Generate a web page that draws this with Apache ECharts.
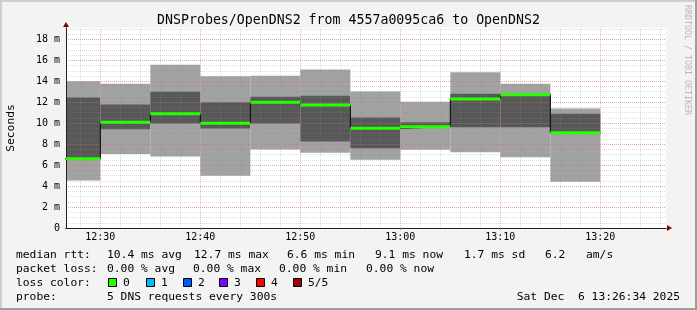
<!DOCTYPE html>
<html><head><meta charset="utf-8">
<script src="https://cdn.jsdelivr.net/npm/echarts@6/dist/echarts.min.js"></script>
<style>html,body{margin:0;padding:0;background:#f3f3f3}#c{width:697px;height:310px}</style>
</head><body><div id="c"></div>
<script>
// ---- data (ms) ----
var binStarts = ['12:25','12:30','12:35','12:40','12:45','12:50','12:55','13:00','13:05','13:10','13:15'];
var binMinutes = 5;
var ping1  = [4.54, 7.06, 6.83, 4.99, 7.50, 7.18, 6.52, 7.47, 7.22, 6.74, 4.42];
var ping2  = [6.62, 9.41, 9.98, 9.50, 9.98, 8.26, 7.60, 9.62, 9.60, 9.60, 9.09];
var median = [6.60, 10.10, 10.90, 10.00, 12.00, 11.74, 9.52, 9.65, 12.30, 12.72, 9.09];
var ping4  = [12.46, 11.77, 13.00, 11.99, 12.53, 12.62, 10.55, 10.08, 12.81, 12.78, 10.90];
var ping5  = [14.00, 13.77, 15.58, 14.47, 14.53, 15.13, 13.03, 12.05, 14.85, 13.77, 11.41];
var xTickLabels = ['12:30','12:40','12:50','13:00','13:10','13:20'];
var rangeStart = '12:26:34', rangeEnd = '13:26:34';
var yMax = 19.08;
var yMajor = 2, yMinor = 0.5, xMinorMinutes = 2;
var lossLabels = ['0','1','2','3','4','5/5'];
var lossColors = ['#26ff00','#00b8ff','#0059ff','#7e00ff','#ff0000','#a10000'];
var titleText = 'DNSProbes/OpenDNS2 from 4557a0095ca6 to OpenDNS2';
var legendLine1 = [[16,'median rtt:'],[107,'10.4 ms avg'],[194,'12.7 ms max'],[287,'6.6 ms min'],[375,'9.1 ms now'],[464,'1.7 ms sd'],[545,'6.2'],[586,'am/s']];
var legendLine2 = [[16,'packet loss:'],[107,'0.00 % avg'],[193,'0.00 % max'],[279,'0.00 % min'],[366,'0.00 % now']];
var probeLine = [[16,'probe:'],[107,'5 DNS requests every 300s']];
var dateText = 'Sat Dec  6 13:26:34 2025';

// ---- helpers ----
function toMin(t){var p=t.split(':');return (+p[0])*60+(+p[1])+(p[2]?(+p[2])/60:0)-720;}
function fmtMin(m){var h=Math.floor((m+720)/60), mm=Math.round(m+720-h*60);return h+':'+(mm<10?'0':'')+mm;}
var xMin = toMin(rangeStart), xMax = toMin(rangeEnd);
var smokeData = binStarts.map(function(t,i){var s=toMin(t);return [s, s+binMinutes, ping1[i], ping2[i], median[i], ping4[i], ping5[i]];});
var stepData = binStarts.map(function(t,i){return [toMin(t), median[i]];});
stepData.push([toMin(binStarts[binStarts.length-1])+binMinutes, median[median.length-1]]);
var xTickValues = xTickLabels.map(toMin);
var MAJOR_COLOR = 'rgba(235,100,100,0.45)', MINOR_COLOR = 'rgba(140,140,140,0.3)';
var gridMarks = [];
for (var m = Math.ceil(xMin/xMinorMinutes)*xMinorMinutes; m <= xMax; m += xMinorMinutes) {
  var major = xTickValues.indexOf(m) >= 0;
  gridMarks.push({xAxis: m, lineStyle: {color: major ? MAJOR_COLOR : MINOR_COLOR, type:[1,1], width:1}});
}

var mono = 'DejaVu Sans Mono';
var GRID = {left:66, top:28, width:600, height:200};

var chart = echarts.init(document.getElementById('c'), null, {renderer:'canvas', width:697, height:310});

var graphics = [];
graphics.push({type:'rect', shape:{x:0,y:0,width:697,height:2}, style:{fill:'#cfcfcf'}, silent:true});
graphics.push({type:'rect', shape:{x:0,y:0,width:2,height:310}, style:{fill:'#cfcfcf'}, silent:true});
graphics.push({type:'rect', shape:{x:0,y:308,width:697,height:2}, style:{fill:'#9e9e9e'}, silent:true});
graphics.push({type:'rect', shape:{x:695,y:0,width:2,height:310}, style:{fill:'#9e9e9e'}, silent:true});
graphics.push({type:'text', x:348.5, y:20.4, style:{text:titleText, font:'13.25px "'+mono+'"', fill:'#000', textAlign:'center', textVerticalAlign:'middle'}, silent:true});
graphics.push({type:'text', x:11, y:128, rotation:Math.PI/2, style:{text:'Seconds', font:'11.3px "'+mono+'"', fill:'#000', textAlign:'center', textVerticalAlign:'middle'}, silent:true});
graphics.push({type:'text', x:687.5, y:60, rotation:-Math.PI/2, style:{text:'RRDTOOL / TOBI OETIKER', font:'8.3px "'+mono+'"', fill:'#b8b8b8', textAlign:'center', textVerticalAlign:'middle'}, silent:true});
function addLine(items, y){
  items.forEach(function(it){
    graphics.push({type:'text', x:it[0], y:y, style:{text:it[1], font:'11.3px "'+mono+'"', fill:'#000', textAlign:'left', textVerticalAlign:'middle'}, silent:true});
  });
}
addLine(legendLine1, 255);
addLine(legendLine2, 269);
addLine([[16,'loss color:']], 283);
var boxX = [108,146,183,219,256,293];
lossLabels.forEach(function(l,i){
  graphics.push({type:'rect', shape:{x:boxX[i]+0.5,y:278.5,width:8,height:8}, style:{fill:lossColors[i], stroke:'#000', lineWidth:1}, silent:true});
  graphics.push({type:'text', x:boxX[i]+15, y:283, style:{text:l, font:'11.3px "'+mono+'"', fill:'#000', textAlign:'left', textVerticalAlign:'middle'}, silent:true});
});
addLine(probeLine, 297);
graphics.push({type:'text', x:680, y:297, style:{text:dateText, font:'11.3px "'+mono+'"', fill:'#000', textAlign:'right', textVerticalAlign:'middle'}, silent:true});

var option = {
  animation:false,
  backgroundColor:'#f3f3f3',
  grid:{left:GRID.left, top:GRID.top, width:GRID.width, height:GRID.height, show:true, backgroundColor:'#ffffff', borderWidth:0},
  xAxis:[
    {type:'value', min:xMin, max:xMax, z:3, position:'bottom',
     axisLine:{show:true, onZero:false, symbol:['none','triangle'], symbolSize:[6,5], symbolOffset:[0,3.5], lineStyle:{color:'#7f0000', width:1}},
     axisTick:{show:false}, axisLabel:{show:false}, splitLine:{show:false}},
    {type:'value', min:xMin, max:xMax, z:4, position:'bottom',
     axisLine:{show:true, onZero:false, lineStyle:{color:'#202020', width:1}},
     axisTick:{show:true, customValues:xTickValues, length:2, lineStyle:{color:'rgba(230,90,90,0.8)'}},
     axisLabel:{show:true, customValues:xTickValues, margin:4, formatter:function(v){return fmtMin(v);}, fontFamily:mono, fontSize:10, color:'#000'},
     splitLine:{show:false}}
  ],
  yAxis:[
    {type:'value', min:0, max:yMax, interval:yMinor, z:3, position:'left',
     axisLine:{show:true, onZero:false, symbol:['none','triangle'], symbolSize:[6,5], symbolOffset:[0,3.5], lineStyle:{color:'#7f0000', width:1}},
     axisTick:{show:false}, axisLabel:{show:false},
     splitLine:{show:true, showMinLine:false, showMaxLine:false, lineStyle:{color:MINOR_COLOR, type:[1,1], width:1}}},
    {type:'value', min:0, max:yMax, interval:yMajor, z:4, position:'left',
     axisLine:{show:true, onZero:false, lineStyle:{color:'#202020', width:1}},
     axisTick:{show:false},
     axisLabel:{show:true, showMaxLabel:false, margin:6, fontFamily:mono, fontSize:10, color:'#000', formatter:function(v){return v===0?'0':v+' m';}},
     splitLine:{show:true, showMinLine:false, showMaxLine:false, lineStyle:{color:MAJOR_COLOR, type:[1,1], width:1}}}
  ],
  graphic:{elements:graphics},
  series:[
    {type:'custom', name:'smoke', xAxisIndex:1, yAxisIndex:1, z:2, clip:true, data:smokeData,
     renderItem:function(params, api){
       var cs = params.coordSys;
       var s = api.value(0), e = api.value(1);
       var x0 = Math.max(api.coord([s,0])[0], cs.x), x1 = Math.min(api.coord([e,0])[0], cs.x+cs.width);
       var y1 = api.coord([s,api.value(2)])[1], y2 = api.coord([s,api.value(3)])[1];
       var y4 = api.coord([s,api.value(5)])[1], y5 = api.coord([s,api.value(6)])[1];
       return {type:'group', children:[
         {type:'rect', shape:{x:x0,y:y5,width:x1-x0,height:y1-y5}, style:{fill:'#a2a2a2'}},
         {type:'rect', shape:{x:x0,y:y4,width:x1-x0,height:y2-y4}, style:{fill:'#585858'}}
       ]};
     }},
    {type:'line', name:'median step', xAxisIndex:1, yAxisIndex:1, z:6, step:'end', data:stepData, symbol:'none',
     lineStyle:{color:'#000000', width:1}, silent:true,
     markLine:{silent:true, symbol:['none','none'], label:{show:false}, animation:false, z:5, data:gridMarks}},
    {type:'custom', name:'median', xAxisIndex:1, yAxisIndex:1, z:7, clip:true, data:smokeData,
     renderItem:function(params, api){
       var cs = params.coordSys;
       var s = api.value(0), e = api.value(1);
       var x0 = Math.max(api.coord([s,0])[0], cs.x), x1 = Math.min(api.coord([e,0])[0], cs.x+cs.width);
       var y = api.coord([s,api.value(4)])[1];
       return {type:'line', shape:{x1:x0,y1:y,x2:x1,y2:y}, style:{stroke:lossColors[0], lineWidth:3, lineCap:'butt'}};
     }}
  ]
};
chart.setOption(option);
</script></body></html>
